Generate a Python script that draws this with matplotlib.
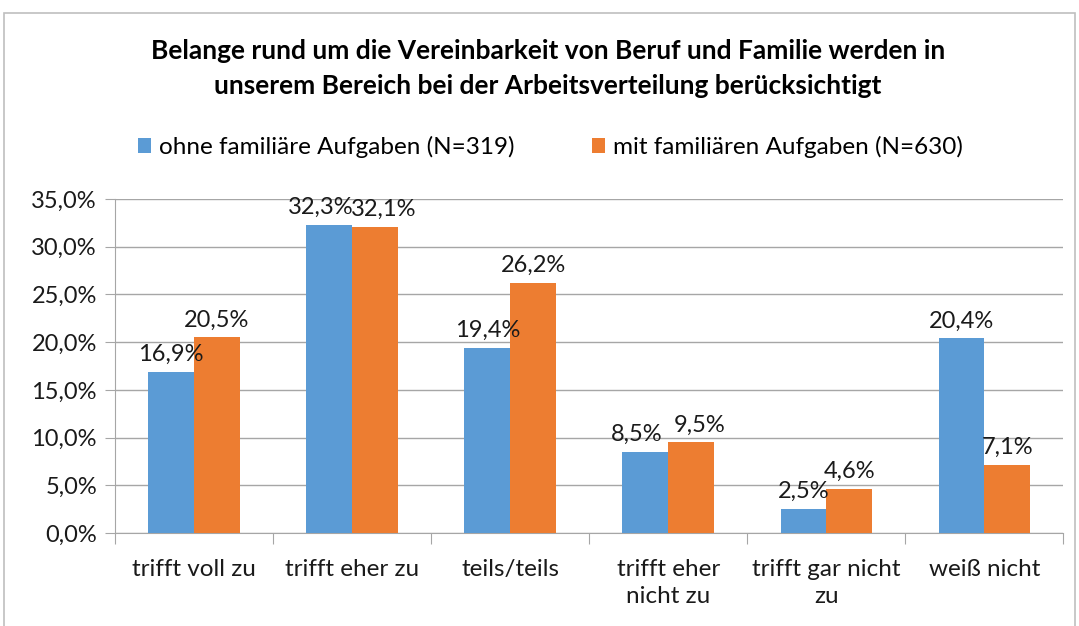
import numpy as np
import matplotlib
matplotlib.use("Agg")
import matplotlib.pyplot as plt
from matplotlib.patches import Rectangle

plt.rcParams['font.family'] = ['Lato', 'DejaVu Sans']

categories = ["trifft voll zu", "trifft eher zu", "teils/teils",
              "trifft eher\nnicht zu", "trifft gar nicht\nzu", "weiß nicht"]
ohne = [16.9, 32.3, 19.4, 8.5, 2.5, 20.4]
mit = [20.5, 32.1, 26.2, 9.5, 4.6, 7.1]
series_names = ["ohne familiäre Aufgaben (N=319)", "mit familiären Aufgaben (N=630)"]
title = ("Belange rund um die Vereinbarkeit von Beruf und Familie werden in\n"
         "unserem Bereich bei der Arbeitsverteilung berücksichtigt")

blue = "#5B9BD5"
orange = "#ED7D31"
grid_col = "#A6A6A6"
txt = "#1a1a1a"

fig = plt.figure(figsize=(10.79, 6.26), dpi=100)
ax = fig.add_axes([0.1066, 0.1486, 0.879, 0.5335])

x = np.arange(len(categories))
w = 0.29
b1 = ax.bar(x - w / 2, ohne, w, color=blue, zorder=3, label=series_names[0])
b2 = ax.bar(x + w / 2, mit, w, color=orange, zorder=3, label=series_names[1])

fmt = lambda v: ("%.1f%%" % v).replace(".", ",")
for side, bars, vals in ((-1, b1, ohne), (1, b2, mit)):
    for i, (r, v) in enumerate(zip(bars, vals)):
        # nudge labels apart when both bars have nearly the same height
        dx = 6 * side if abs(ohne[i] - mit[i]) < 1.5 else 0
        ax.annotate(fmt(v), (r.get_x() + r.get_width() / 2, v),
                    xytext=(dx, 5), textcoords="offset points",
                    ha="center", va="bottom", fontsize=17, color=txt)

ax.set_xlim(-0.5, len(categories) - 0.5)
ax.set_ylim(0, 35)
ax.set_yticks(np.arange(0, 36, 5))
ax.set_yticklabels([fmt(v) for v in np.arange(0, 36, 5)])
ax.yaxis.grid(True, color=grid_col, lw=1, zorder=0)
ax.set_xticks(np.arange(-0.5, len(categories), 1), minor=False)
ax.set_xticklabels([])
ax.set_xticks(x, minor=True)
ax.set_xticklabels(categories, minor=True, fontsize=17.5, color=txt,
                   linespacing=1.35, va="top")
ax.tick_params(axis="x", which="minor", length=0, pad=19)
ax.tick_params(axis="x", which="major", length=8, color=grid_col)
ax.tick_params(axis="y", length=7, color=grid_col, labelsize=17,
               labelcolor=txt, pad=6)
for s in ["top", "right"]:
    ax.spines[s].set_visible(False)
for s in ["left", "bottom"]:
    ax.spines[s].set_color(grid_col)

fig.text(0.508, 0.891, title, ha="center", va="center", fontsize=19,
         fontweight="bold", linespacing=1.55)
fig.legend(handles=[b1, b2], labels=series_names, loc="center",
           bbox_to_anchor=(0.51, 0.765), ncol=2, frameon=False, fontsize=17.5,
           handlelength=0.55, handleheight=0.55, handletextpad=0.3,
           columnspacing=3.2)

fig.patches.append(Rectangle((0.004, -0.01), 0.992, 0.99, transform=fig.transFigure,
                             fill=False, edgecolor="#BFBFBF", lw=1.2))

fig.savefig("out.png", dpi=100)
